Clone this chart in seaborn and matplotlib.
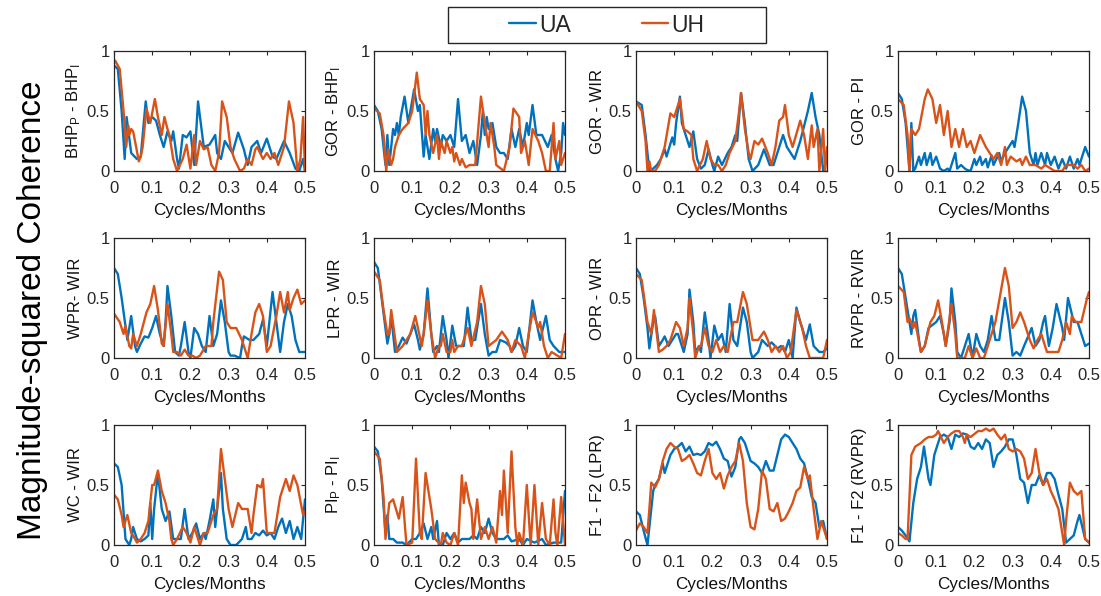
import matplotlib
matplotlib.use("Agg")
import matplotlib.pyplot as plt
from matplotlib.lines import Line2D
from matplotlib.patches import Rectangle
import pandas as pd
import seaborn as sns

# ---------------------------------------------------------------------------
# Magnitude-squared coherence, (frequency [cycles/month], coherence) vertices
# ---------------------------------------------------------------------------
BHP_UA = [(0, .88), (.01, .85), (.02, .5), (.028, .1), (.033, .45), (.045, .15), (.06, .1), (.07, .12),
          (.083, .58), (.09, .4), (.1, .45), (.11, .42), (.12, .3), (.13, .2), (.14, .33), (.15, .25),
          (.155, .33), (.165, .1), (.17, .02), (.18, .3), (.19, .28), (.2, .33), (.21, .05), (.22, .58),
          (.235, .2), (.25, .22), (.265, .3), (.27, .15), (.28, .1), (.29, .25), (.3, .2), (.31, .15),
          (.325, .32), (.34, .18), (.35, .05), (.36, .2), (.375, .25), (.385, .15), (.4, .27), (.415, .12),
          (.425, .1), (.445, .25), (.46, .15), (.475, .02), (.485, 0), (.495, .1), (.5, 0)]
BHP_UH = [(0, .9), (.003, .92), (.015, .85), (.025, .5), (.032, .2), (.037, .38), (.04, .3), (.045, .35),
          (.05, .33), (.058, .2), (.065, .08), (.07, .12), (.075, .2), (.085, .52), (.095, .4), (.107, .6),
          (.115, .45), (.125, .3), (.132, .45), (.14, .35), (.145, .3), (.155, .1), (.165, 0), (.18, .1),
          (.19, .22), (.2, .02), (.21, .3), (.215, .05), (.225, .25), (.235, .18), (.245, .2), (.255, .05),
          (.265, 0), (.275, .15), (.283, .58), (.295, .45), (.305, .2), (.315, .1), (.33, 0), (.34, .02),
          (.35, .1), (.36, .05), (.37, .18), (.375, .2), (.39, .1), (.4, .15), (.41, .1), (.42, .15),
          (.43, .05), (.445, .2), (.458, .58), (.47, .4), (.48, 0), (.488, .1), (.495, .45), (.5, 0)]

GORB_UA = [(0, .55), (.01, .5), (.02, .35), (.03, .05), (.035, .3), (.04, .05), (.05, .35), (.055, .3),
           (.06, .4), (.065, .3), (.07, .45), (.08, .62), (.09, .4), (.105, .68), (.115, .5), (.12, .55),
           (.13, .12), (.135, .3), (.145, .1), (.155, .35), (.16, .25), (.165, .35), (.175, .2), (.18, .3),
           (.19, .25), (.2, .3), (.21, .2), (.22, .6), (.23, .25), (.24, .3), (.25, .15), (.26, .25),
           (.27, .05), (.28, .3), (.285, .5), (.29, .3), (.295, .45), (.3, .35), (.31, .4), (.32, .2),
           (.33, .15), (.34, .15), (.35, .1), (.36, .35), (.37, .2), (.38, .35), (.39, .2), (.4, .4),
           (.405, .3), (.415, .55), (.425, .3), (.44, .3), (.455, .2), (.465, .3), (.475, .1), (.482, 0),
           (.49, .15), (.495, .4), (.5, .3)]
GORB_UH = [(0, .52), (.015, .48), (.025, .3), (.032, 0), (.037, .18), (.045, .05), (.05, .1), (.055, .2),
           (.065, .3), (.075, .35), (.09, .4), (.1, .5), (.112, .82), (.12, .6), (.13, .55), (.135, .3),
           (.14, .5), (.145, .3), (.155, .15), (.165, .3), (.17, .1), (.175, .25), (.185, .15), (.19, .25),
           (.2, .15), (.205, .2), (.21, .08), (.215, .15), (.225, .05), (.23, .1), (.24, .03), (.25, .05),
           (.265, .05), (.28, .62), (.29, .4), (.3, .2), (.305, .4), (.315, .2), (.32, .05), (.34, 0),
           (.355, .2), (.365, .52), (.38, .45), (.385, .15), (.395, .25), (.405, .05), (.415, .35),
           (.43, .25), (.44, .15), (.45, 0), (.46, 0), (.47, .4), (.475, .1), (.485, .25), (.49, .05),
           (.5, .15)]

GORW_UA = [(0, .58), (.015, .55), (.025, .3), (.035, 0), (.045, .02), (.055, .05), (.065, .1), (.075, .18),
           (.08, .12), (.095, .28), (.1, .22), (.105, .4), (.115, .62), (.12, .4), (.14, .2), (.15, .33),
           (.16, .1), (.17, .02), (.18, .05), (.19, .18), (.2, .05), (.205, 0), (.215, .12), (.225, .05),
           (.24, .15), (.25, .2), (.26, .3), (.265, .25), (.275, .65), (.285, .4), (.295, .1), (.305, 0),
           (.32, .05), (.335, .18), (.35, .05), (.36, .05), (.375, .2), (.385, .3), (.395, .2), (.405, .15),
           (.415, .1), (.43, .25), (.45, .5), (.46, .65), (.47, .45), (.48, .3), (.49, 0), (.5, .1)]
GORW_UH = [(0, .58), (.015, .5), (.025, .25), (.03, 0), (.035, .08), (.04, 0), (.05, 0), (.06, .05),
           (.075, .2), (.09, .48), (.1, .45), (.115, .6), (.125, .35), (.135, .33), (.145, .3), (.15, .1),
           (.16, 0), (.175, .1), (.185, .25), (.195, .1), (.205, .05), (.215, .05), (.225, 0), (.235, .05),
           (.245, .15), (.26, .25), (.27, .5), (.275, .65), (.285, .35), (.295, .15), (.3, .1), (.31, .25),
           (.32, .22), (.33, .27), (.345, .15), (.355, .05), (.365, .2), (.375, .42), (.385, .45), (.39, .55),
           (.4, .3), (.41, .2), (.43, .42), (.44, .3), (.45, .1), (.46, .38), (.465, .2), (.475, .35),
           (.48, 0), (.49, .35), (.495, 0), (.5, .2)]

GORP_UA = [(0, .65), (.01, .6), (.02, .4), (.03, 0), (.035, .4), (.04, 0), (.045, .02), (.055, .12),
           (.06, .05), (.07, .15), (.075, .05), (.085, .15), (.09, .05), (.1, .12), (.11, .02), (.12, 0),
           (.13, .02), (.135, 0), (.15, .15), (.155, .02), (.165, .05), (.175, .02), (.18, .01), (.19, 0),
           (.2, .1), (.205, .05), (.215, .12), (.22, .05), (.23, .1), (.235, .03), (.245, .13), (.25, .05),
           (.265, .15), (.27, .08), (.28, .15), (.29, .2), (.3, .25), (.305, .2), (.315, .4), (.325, .62),
           (.335, .5), (.345, .15), (.355, .05), (.36, .15), (.365, .05), (.375, .15), (.385, .05),
           (.39, .15), (.4, .05), (.41, .12), (.42, .02), (.43, .1), (.44, .02), (.45, .12), (.46, .02),
           (.47, .1), (.475, .05), (.49, .2), (.5, .12)]
GORP_UH = [(0, .6), (.015, .55), (.025, .3), (.03, 0), (.035, .35), (.045, .3), (.055, .35), (.07, .6),
           (.078, .68), (.09, .6), (.1, .4), (.11, .55), (.12, .3), (.13, .5), (.14, .2), (.15, .35),
           (.16, .2), (.17, .35), (.18, .2), (.19, .25), (.2, .15), (.215, .3), (.23, .2), (.24, .15),
           (.25, .1), (.26, .15), (.27, .05), (.28, .2), (.285, .05), (.295, .12), (.31, .08), (.32, .1),
           (.325, .05), (.335, .12), (.345, .05), (.36, .05), (.375, .02), (.385, .05), (.4, .02), (.41, 0),
           (.43, 0), (.44, .05), (.46, .05), (.47, .02), (.48, .05), (.49, 0), (.5, .02)]

WPR_UA = [(0, .75), (.01, .7), (.02, .5), (.035, .15), (.045, .35), (.055, .1), (.06, .05), (.07, .12),
          (.08, .18), (.09, .17), (.1, .25), (.11, .35), (.12, .2), (.13, .1), (.135, .3), (.14, .6),
          (.15, .35), (.16, .05), (.17, .02), (.175, .1), (.185, .3), (.195, .05), (.2, 0), (.21, .25),
          (.22, .2), (.23, .1), (.24, .05), (.25, .35), (.26, .1), (.27, .2), (.28, .48), (.29, .3),
          (.3, .05), (.305, .02), (.315, .02), (.33, 0), (.335, .1), (.34, .18), (.355, .15), (.365, .15),
          (.38, .2), (.39, .32), (.4, .1), (.415, .55), (.425, .3), (.435, .05), (.445, .3), (.455, .45),
          (.465, .35), (.475, .15), (.485, .05), (.5, .05)]
WPR_UH = [(0, .37), (.015, .3), (.025, .2), (.03, .27), (.04, .1), (.045, .08), (.05, .2), (.06, .1),
          (.07, .2), (.085, .38), (.095, .45), (.105, .6), (.115, .4), (.125, .12), (.13, .1), (.14, .45),
          (.15, .2), (.155, .05), (.165, .05), (.175, .02), (.185, .07), (.195, .02), (.205, .02),
          (.215, 0), (.225, .02), (.24, .1), (.255, .1), (.26, .3), (.275, .72), (.285, .65), (.295, .3),
          (.305, .25), (.32, .25), (.335, .15), (.345, .05), (.35, 0), (.36, .2), (.37, .38), (.38, .45),
          (.39, .35), (.4, .05), (.41, .1), (.425, .35), (.435, .55), (.445, .38), (.455, .55), (.46, .4),
          (.47, .5), (.48, .57), (.49, .45), (.5, .48)]

LPR_UA = [(0, .8), (.01, .75), (.02, .5), (.035, .12), (.04, .2), (.045, .35), (.055, .05), (.065, .1),
          (.075, .17), (.085, .12), (.095, .2), (.105, .28), (.115, .15), (.12, .07), (.13, .2), (.14, .58),
          (.15, .2), (.155, .05), (.165, .1), (.17, .05), (.18, .35), (.19, .15), (.195, 0), (.205, .27),
          (.215, .1), (.225, .1), (.235, .1), (.245, .42), (.255, .15), (.265, .15), (.28, .45), (.29, .2),
          (.3, .02), (.31, .05), (.32, .05), (.33, .15), (.345, .13), (.355, .1), (.36, .05), (.37, .1),
          (.38, .25), (.39, .1), (.4, .05), (.415, .48), (.425, .3), (.435, .15), (.45, .35), (.46, .15),
          (.47, .1), (.485, .05), (.5, .05)]
LPR_UH = [(0, .72), (.015, .65), (.025, .4), (.035, .2), (.04, .2), (.045, .4), (.06, .05), (.075, .1),
          (.085, .15), (.095, .2), (.108, .35), (.115, .25), (.125, .1), (.13, .2), (.14, .48), (.15, .2),
          (.16, 0), (.17, .1), (.175, .1), (.18, .2), (.19, .05), (.2, .05), (.205, .15), (.21, .05),
          (.22, .1), (.23, .1), (.24, .2), (.245, .25), (.255, .1), (.27, .3), (.28, .6), (.29, .45),
          (.3, .1), (.32, .15), (.335, .22), (.35, .15), (.36, .05), (.37, .15), (.385, .1), (.395, 0),
          (.405, .2), (.415, .38), (.425, .3), (.43, .25), (.435, .3), (.445, .1), (.455, 0), (.465, .05),
          (.48, .02), (.49, 0), (.5, .2)]

OPR_UA = [(0, .75), (.01, .7), (.02, .5), (.03, .25), (.035, .08), (.045, .3), (.05, .35), (.06, .1),
          (.07, .15), (.075, .18), (.085, .1), (.095, .15), (.105, .2), (.11, .2), (.12, .1), (.125, .05),
          (.135, .2), (.14, .57), (.15, .3), (.155, .05), (.165, .1), (.17, .05), (.18, .38), (.19, .15),
          (.195, 0), (.205, .27), (.215, .15), (.225, .2), (.235, .05), (.245, .45), (.255, .15),
          (.265, .1), (.28, .42), (.29, .3), (.3, .05), (.305, 0), (.32, .05), (.33, .15), (.345, .1),
          (.355, .13), (.37, .08), (.38, .1), (.39, .05), (.4, .15), (.41, 0), (.42, .42), (.43, .3),
          (.445, .15), (.455, .28), (.465, .1), (.48, .05), (.49, .05), (.5, .08)]
OPR_UH = [(0, .7), (.015, .65), (.03, .3), (.04, .2), (.047, .4), (.06, .05), (.07, .07), (.08, .1),
          (.09, .15), (.105, .3), (.115, .25), (.125, .1), (.135, .25), (.14, .5), (.15, .2), (.155, 0),
          (.165, .1), (.17, .1), (.18, .25), (.19, .1), (.2, .05), (.21, .15), (.22, .05), (.23, .1),
          (.24, .05), (.255, .3), (.265, .3), (.28, .55), (.29, .45), (.305, .15), (.32, .15), (.335, .22),
          (.345, .15), (.355, .05), (.365, .1), (.375, .05), (.385, .1), (.395, 0), (.405, .05), (.42, .4),
          (.435, .25), (.445, .1), (.455, 0), (.49, 0), (.5, .15)]

RVPR_UA = [(0, .75), (.01, .7), (.02, .5), (.035, .2), (.04, .35), (.045, .4), (.055, .15), (.06, .05),
           (.07, .1), (.08, .25), (.1, .3), (.11, .35), (.12, .2), (.125, .1), (.135, .3), (.14, .58),
           (.15, .3), (.155, .05), (.165, 0), (.175, .1), (.185, .2), (.195, 0), (.205, .2), (.215, .1),
           (.225, .05), (.235, .15), (.245, .35), (.255, .15), (.265, .15), (.28, .5), (.29, .3), (.3, .02),
           (.31, .05), (.32, .02), (.33, .1), (.35, .25), (.36, .1), (.37, .15), (.38, .3), (.385, .35),
           (.395, .1), (.405, .25), (.415, .45), (.43, .25), (.435, .15), (.445, .5), (.46, .3), (.47, .3),
           (.48, .2), (.49, .1), (.5, .12)]
RVPR_UH = [(0, .6), (.015, .55), (.025, .3), (.03, .33), (.04, .25), (.045, .3), (.06, .05), (.07, .1),
           (.085, .3), (.095, .35), (.105, .48), (.115, .3), (.125, .1), (.14, .45), (.15, .2), (.155, 0),
           (.175, 0), (.185, .1), (.195, 0), (.205, .08), (.215, 0), (.225, 0), (.235, .1), (.255, .3),
           (.28, .75), (.29, .6), (.3, .25), (.31, .3), (.32, .38), (.33, .3), (.345, .15), (.355, .08),
           (.365, .15), (.375, .2), (.39, .05), (.41, .05), (.42, .05), (.43, .15), (.44, .3), (.45, .2),
           (.455, .35), (.465, .3), (.48, .3), (.495, .5), (.5, .55)]

WC_UA = [(0, .68), (.01, .65), (.02, .5), (.03, .05), (.04, 0), (.045, .05), (.05, .15), (.06, .05),
         (.07, .03), (.08, .05), (.09, .08), (.095, .35), (.1, .05), (.105, .3), (.115, .6), (.125, .3),
         (.135, .2), (.145, .28), (.155, .05), (.165, .05), (.175, .05), (.185, .3), (.195, .05), (.205, .1),
         (.215, .18), (.225, .05), (.235, .1), (.24, .05), (.25, .2), (.26, .38), (.265, .15), (.27, .3),
         (.28, .6), (.285, .3), (.295, .05), (.305, 0), (.32, 0), (.335, .05), (.345, .15), (.35, .05),
         (.36, .05), (.37, .1), (.38, .08), (.39, .12), (.4, .08), (.41, .1), (.42, .05), (.43, .15),
         (.44, .22), (.45, .1), (.46, .2), (.47, .05), (.48, .15), (.49, .05), (.5, .38)]
WC_UH = [(0, .42), (.01, .38), (.02, .25), (.025, .15), (.035, .25), (.045, .1), (.05, .08), (.06, .02),
         (.07, .05), (.08, .1), (.09, .2), (.1, .5), (.105, .5), (.115, .62), (.125, .45), (.135, .35),
         (.145, .2), (.15, .05), (.155, 0), (.165, .05), (.18, .15), (.19, .1), (.2, .02), (.21, .15),
         (.22, .05), (.225, 0), (.235, .1), (.245, .1), (.26, .25), (.27, .3), (.28, .8), (.29, .55),
         (.3, .3), (.31, .15), (.325, .35), (.335, .3), (.35, .3), (.36, .1), (.365, .25), (.375, .5),
         (.385, .48), (.39, .55), (.4, .1), (.42, .1), (.435, .4), (.45, .55), (.46, .45), (.47, .58),
         (.48, .5), (.495, .25), (.5, .28)]

PI_UA = [(0, .82), (.01, .78), (.02, .55), (.03, .1), (.035, .25), (.04, .05), (.05, .05), (.06, .02),
         (.075, .02), (.085, 0), (.1, .05), (.11, .05), (.12, .1), (.13, .18), (.14, .05), (.15, .15),
         (.155, .05), (.165, .2), (.17, 0), (.18, 0), (.19, .1), (.2, .05), (.21, .1), (.22, .02),
         (.23, .05), (.25, .05), (.26, .08), (.27, .05), (.28, .15), (.29, .1), (.3, .22), (.31, .1),
         (.32, .05), (.34, .05), (.35, .08), (.36, .03), (.38, .05), (.39, 0), (.4, .05), (.42, .02),
         (.44, .05), (.45, 0), (.47, .02), (.49, .02), (.5, .45)]
PI_UH = [(0, .78), (.015, .72), (.025, .4), (.03, .05), (.04, .35), (.05, .38), (.065, .22), (.075, .4),
         (.085, 0), (.1, .02), (.11, .72), (.12, .1), (.125, .05), (.135, .6), (.145, .4), (.15, .3),
         (.16, .05), (.175, 0), (.18, .1), (.19, .02), (.2, 0), (.21, .1), (.22, 0), (.23, .58),
         (.235, .35), (.24, .52), (.25, .35), (.255, .3), (.26, .05), (.27, .38), (.28, .05), (.29, .15),
         (.3, .05), (.31, .15), (.32, .02), (.33, .45), (.335, .25), (.34, .62), (.35, .1), (.36, .78),
         (.37, .15), (.375, 0), (.38, .1), (.39, 0), (.4, .5), (.41, 0), (.42, .5), (.43, 0), (.44, .35),
         (.45, .05), (.46, 0), (.47, .38), (.475, .1), (.48, 0), (.49, .4), (.5, 0)]

F12L_UA = [(0, .28), (.01, .25), (.02, .12), (.03, 0), (.035, .15), (.045, .45), (.05, .5), (.06, .55),
           (.07, .68), (.075, .6), (.08, .65), (.09, .75), (.1, .8), (.11, .82), (.12, .85), (.13, .78),
           (.14, .82), (.15, .75), (.16, .76), (.17, .75), (.18, .78), (.19, .85), (.2, .83), (.21, .86),
           (.22, .8), (.23, .72), (.24, .7), (.25, .57), (.26, .65), (.27, .88), (.275, .9), (.285, .85),
           (.295, .75), (.3, .7), (.31, .68), (.32, .65), (.33, .6), (.34, .7), (.35, .62), (.36, .62),
           (.37, .75), (.38, .88), (.39, .92), (.4, .9), (.41, .85), (.42, .8), (.43, .72), (.44, .68),
           (.45, .55), (.46, .4), (.47, .35), (.48, .15), (.49, .2), (.5, .05)]
F12L_UH = [(0, .12), (.01, .18), (.02, .15), (.03, .1), (.035, .3), (.04, .52), (.05, .48), (.06, .55),
           (.07, .7), (.08, .8), (.09, .85), (.1, .82), (.11, .8), (.12, .7), (.13, .72), (.14, .75),
           (.15, .68), (.16, .6), (.17, .58), (.18, .7), (.19, .8), (.2, .6), (.21, .55), (.22, .6),
           (.23, .47), (.24, .58), (.25, .65), (.26, .7), (.27, .85), (.28, .7), (.29, .35), (.3, .15),
           (.31, .13), (.32, .3), (.33, .62), (.34, .55), (.35, .3), (.36, .28), (.37, .35), (.38, .2),
           (.39, .22), (.4, .28), (.41, .35), (.42, .45), (.43, .48), (.44, .65), (.45, .55), (.455, .58),
           (.465, .3), (.475, .05), (.485, .2), (.495, .1), (.5, .05)]

F12R_UA = [(0, .15), (.01, .12), (.02, .08), (.03, .03), (.04, .35), (.05, .55), (.06, .65), (.068, .82),
           (.08, .55), (.085, .5), (.095, .75), (.11, .9), (.12, .92), (.13, .9), (.14, .8), (.15, .92),
           (.16, .9), (.17, .93), (.18, .92), (.19, .82), (.2, .8), (.21, .85), (.22, .8), (.23, .88),
           (.24, .85), (.25, .65), (.26, .75), (.27, .78), (.28, .82), (.29, .88), (.3, .88), (.31, .75),
           (.32, .55), (.33, .52), (.34, .35), (.35, .5), (.36, .5), (.37, .58), (.38, .5), (.39, .6),
           (.4, .6), (.41, .55), (.42, .42), (.43, .3), (.44, .02), (.45, .05), (.46, .08), (.47, .2),
           (.475, .25), (.49, .05), (.5, .02)]
F12R_UH = [(0, .1), (.01, .08), (.02, .05), (.025, .05), (.035, .75), (.045, .82), (.06, .85), (.07, .88),
           (.08, .9), (.09, .9), (.1, .92), (.105, .95), (.12, .85), (.13, .9), (.14, .93), (.15, .95),
           (.16, .95), (.17, .9), (.175, .85), (.18, .92), (.19, .9), (.21, .95), (.22, .95), (.23, .97),
           (.24, .95), (.25, .97), (.26, .92), (.27, .88), (.28, .92), (.29, .8), (.3, .78), (.31, .8),
           (.32, .78), (.33, .72), (.34, .55), (.35, .6), (.36, .8), (.37, .6), (.38, .5), (.39, .55),
           (.4, .45), (.41, .38), (.42, .3), (.43, .1), (.435, 0), (.44, .2), (.45, .52), (.46, .45),
           (.47, .42), (.48, .45), (.49, .05), (.5, .02)]

PANELS = [
    ("BHP$_{P}$ - BHP$_{I}$", BHP_UA, BHP_UH),
    ("GOR - BHP$_{I}$", GORB_UA, GORB_UH),
    ("GOR - WIR", GORW_UA, GORW_UH),
    ("GOR - PI", GORP_UA, GORP_UH),
    ("WPR- WIR", WPR_UA, WPR_UH),
    ("LPR - WIR", LPR_UA, LPR_UH),
    ("OPR - WIR", OPR_UA, OPR_UH),
    ("RVPR - RVIR", RVPR_UA, RVPR_UH),
    ("WC - WIR", WC_UA, WC_UH),
    ("PI$_{P}$ - PI$_{I}$", PI_UA, PI_UH),
    ("F1 - F2 (LPR)", F12L_UA, F12L_UH),
    ("F1 - F2 (RVPR)", F12R_UA, F12R_UH),
]
SERIES = ["UA", "UH"]
COLORS = {"UA": "#0072BD", "UH": "#D95319"}
X_TICKS = [0, 0.1, 0.2, 0.3, 0.4, 0.5]
X_TICK_LABELS = ["0", "0.1", "0.2", "0.3", "0.4", "0.5"]
Y_TICKS = [0, 0.5, 1]
Y_TICK_LABELS = ["0", "0.5", "1"]

# ---------------------------------------------------------------------------
sns.set_style("white")
plt.rcParams["font.family"] = ["Liberation Sans", "DejaVu Sans"]
plt.rcParams["mathtext.fontset"] = "custom"
plt.rcParams["mathtext.rm"] = "Liberation Sans"
plt.rcParams["mathtext.default"] = "regular"

W, H = 1101, 596
fig = plt.figure(figsize=(W / 100, H / 100), dpi=100)

col_left = [114, 374, 636, 898]
row_top = [51, 238, 425]
ax_w, ax_h = 191, 120
axis_col = "#262626"

for i, (label, ua, uh) in enumerate(PANELS):
    r, c = divmod(i, 4)
    ax = fig.add_axes([col_left[c] / W, 1 - (row_top[r] + ax_h) / H, ax_w / W, ax_h / H])
    frames = []
    for name, pts in zip(SERIES, (ua, uh)):
        df = pd.DataFrame(pts, columns=["freq", "coh"])
        df["series"] = name
        frames.append(df)
    data = pd.concat(frames, ignore_index=True)
    sns.lineplot(data=data, x="freq", y="coh", hue="series", palette=COLORS,
                 estimator=None, sort=False, linewidth=1.7, legend=False, ax=ax)
    for ln in ax.get_lines():
        ln.set_solid_joinstyle("round")
    ax.set_xlim(0, 0.5)
    ax.set_ylim(0, 1)
    ax.set_xticks(X_TICKS, X_TICK_LABELS)
    ax.set_yticks(Y_TICKS, Y_TICK_LABELS)
    ax.tick_params(direction="in", length=3, width=0.8, top=True, right=True,
                   labelsize=12, colors=axis_col)
    ax.tick_params(axis="x", pad=7)
    ax.tick_params(axis="y", pad=3)
    for sp in ax.spines.values():
        sp.set_visible(True)
        sp.set_color(axis_col)
        sp.set_linewidth(0.9)
    ax.set_xlabel("Cycles/Months", fontsize=12.3, color="#111111", labelpad=5)
    ax.set_ylabel(label, fontsize=12, color="#111111", labelpad=3)

fig.text(33 / W, 1 - 310 / H, "Magnitude-squared Coherence", rotation=90,
         ha="center", va="center", fontsize=24, color="black")

handles = [Line2D([], [], color=COLORS[s], linewidth=1.7) for s in SERIES]
fig.legend(handles, SERIES, loc="center", bbox_to_anchor=(607 / W, 1 - 25 / H),
           ncol=2, frameon=False, fontsize=16.5, handlelength=1.15,
           handletextpad=0.15, columnspacing=3.1)
fig.patches.append(Rectangle((448 / W, 1 - 43 / H), 318 / W, 36 / H,
                             transform=fig.transFigure, fill=False,
                             edgecolor="#262626", linewidth=1.0))

fig.savefig("out.png", dpi=100)
